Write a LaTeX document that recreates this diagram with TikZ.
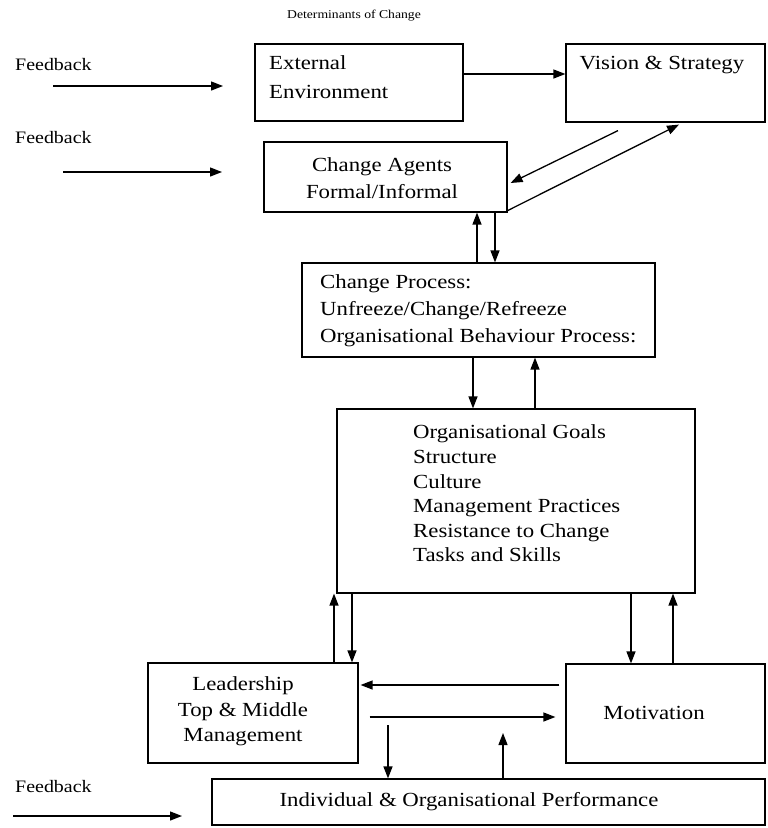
\documentclass[tikz,border=0pt]{standalone}
\usepackage{fontspec}
\setmainfont{Liberation Serif}[FakeStretch=1.14]
\usetikzlibrary{arrows.meta,calc}

\begin{document}
\begin{tikzpicture}[x=1pt,y=-1pt,
  box/.style={draw, line width=1.2pt, inner sep=0pt},
  arr/.style={-{Triangle[length=12pt,width=9pt]}, line width=1.3pt},
  txt/.style={font=\fontsize{20}{26}\selectfont, inner sep=0pt},
  fbtxt/.style={font=\fontsize{17.5}{20}\selectfont, anchor=west, inner sep=0pt}]
\useasboundingbox (0,0) rectangle (768,828);

% boxes
\node[box, minimum width=208pt, minimum height=77pt]  (ext)  at (359,82.5)   {};
\node[box, minimum width=199pt, minimum height=78pt]  (vis)  at (665.5,83)   {};
\node[box, minimum width=243pt, minimum height=70pt]  (agt)  at (385.5,177)  {};
\node[box, minimum width=353pt, minimum height=94pt]  (proc) at (478.5,310)  {};
\node[box, minimum width=358pt, minimum height=184pt] (org)  at (516,501)    {};
\node[box, minimum width=210pt, minimum height=100pt] (lead) at (253,713)    {};
\node[box, minimum width=199pt, minimum height=99pt]  (mot)  at (665.5,713.5) {};
\node[box, minimum width=553pt, minimum height=46pt]  (perf) at (488.5,802)  {};

% texts
\node[font=\fontsize{12}{14}\selectfont] (title) at (354,16) {Determinants of Change};
\node[fbtxt] (fbA) at (15,65)  {Feedback};
\node[fbtxt] (fbB) at (15,138) {Feedback};
\node[fbtxt] (fbC) at (15,787) {Feedback};
\node[txt, anchor=west, align=left, font=\fontsize{20}{29}\selectfont] (extT) at (269,77.5) {External\\Environment};
\node[txt] (visT) at (662,65) {Vision \& Strategy};
\node[txt, align=center, font=\fontsize{20}{27}\selectfont] (agtT) at (382,178.5) {Change Agents\\Formal/Informal};
\node[txt, anchor=west, align=left, font=\fontsize{20}{27}\selectfont] (procT) at (320,310.5)
  {Change Process:\\Unfreeze/Change/Refreeze\\Organisational Behaviour Process:};
\node[txt, anchor=west, align=left, font=\fontsize{20}{24.6}\selectfont] (orgT) at (413,493.5)
  {Organisational Goals\\Structure\\Culture\\Management Practices\\Resistance to Change\\Tasks and Skills};
\node[txt, align=center, font=\fontsize{20}{25.5}\selectfont] (leadT) at (243,711.5) {Leadership\\Top \& Middle\\Management};
\node[txt] (motT) at (654,713) {Motivation};
\node[txt] (perfT) at (469,802) {Individual \& Organisational Performance};

% free ends of the feedback and side connectors
\coordinate (fbAs) at (53,86);   \coordinate (fbAe) at (223,86);
\coordinate (fbBs) at (63,172);  \coordinate (fbBe) at (222,172);
\coordinate (fbCs) at (13,816);  \coordinate (fbCe) at (182,816);
\coordinate (leadD) at (388,725);
\coordinate (motU) at (503,733);

% connectors
\draw[arr] (fbAs) -- (fbAe);
\draw[arr] (fbBs) -- (fbBe);
\draw[arr] (fbCs) -- (fbCe);
\draw[arr] (ext.east |- 0,74) -- (vis.west |- 0,74);
\draw[arr] ($(vis.south)+(-47.5,8)$) -- ($(agt.east)+(3,6)$);
\draw[arr] ($(agt.south east)+(0,-2)$) -- ($(vis.south)+(13.5,2)$);
\draw[arr] (proc.north -| 477,0) -- (agt.south -| 477,0);
\draw[arr] (agt.south -| 495,0) -- (proc.north -| 495,0);
\draw[arr] (proc.south -| 473,0) -- (org.north -| 473,0);
\draw[arr] (org.north -| 535,0) -- (proc.south -| 535,0);
\draw[arr] (lead.north -| 334,0) -- (org.south -| 334,0);
\draw[arr] (org.south -| 352,0) -- (lead.north -| 352,0);
\draw[arr] (org.south -| 631,0) -- (mot.north -| 631,0);
\draw[arr] (mot.north -| 673,0) -- (org.south -| 673,0);
\draw[arr] ($(mot.west |- 0,685)+(-6,0)$) -- ($(lead.east |- 0,685)+(2,0)$);
\draw[arr] ($(lead.east |- 0,717)+(11,0)$) -- ($(mot.west |- 0,717)+(-10,0)$);
\draw[arr] (leadD) -- (perf.north -| 388,0);
\draw[arr] (perf.north -| 503,0) -- (motU);
\end{tikzpicture}
\end{document}
